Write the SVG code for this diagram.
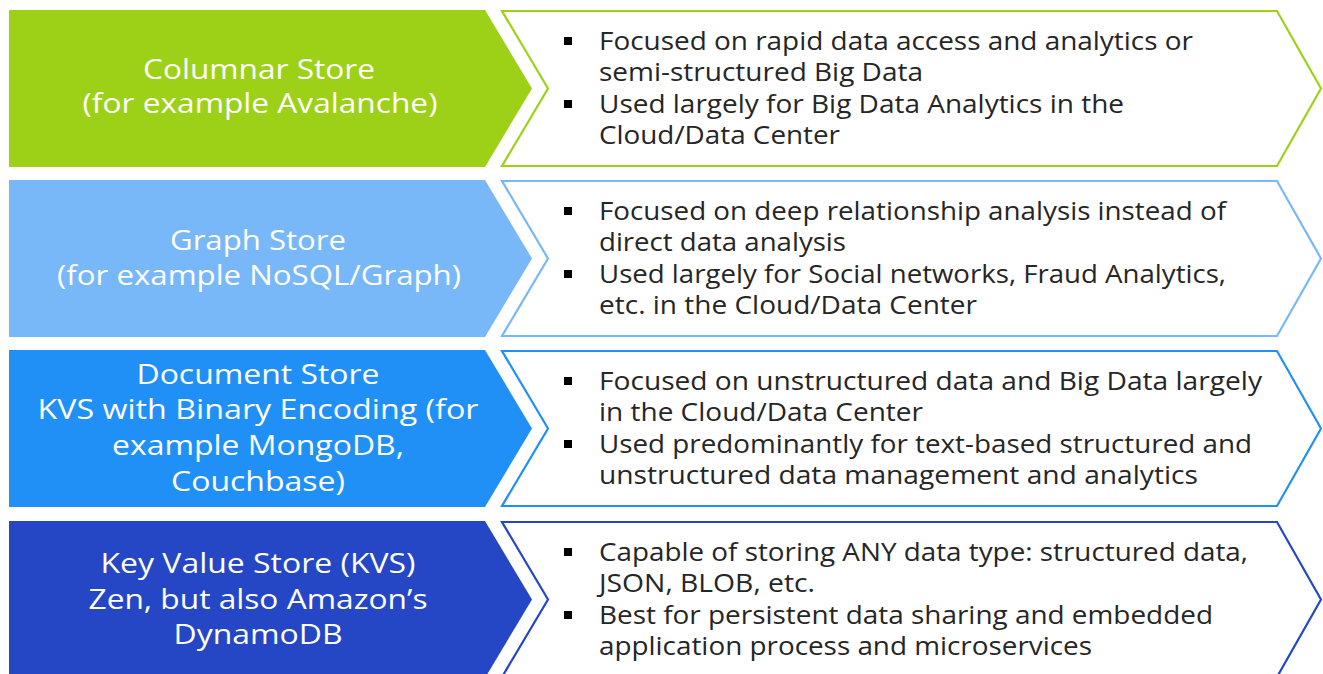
<svg xmlns="http://www.w3.org/2000/svg" width="1323" height="674" viewBox="0 0 1323 674">
<style>
.lt{font-family:"Open Sans","Liberation Sans",sans-serif;font-size:27px;fill:#ffffff;text-anchor:middle}
.rt{font-family:"Open Sans","Liberation Sans",sans-serif;font-size:25px;fill:#262626}
.chev{fill:#ffffff;stroke-width:2.2}
.bul{fill:#000000}
</style>
<defs>
<polygon id="arrowL" points="9,0 485,0 532,78.5 485,157 9,157"/>
<polygon id="chevR" points="502,1 1277,1 1321,78.5 1277,156 502,156 548,78.5"/>
<g id="bullets">
<rect x="564" y="27" width="8" height="8"/>
<rect x="564" y="90" width="8" height="8"/>
</g>
</defs>

<g id="row1" transform="translate(0,10)">
<use href="#arrowL" fill="#9dd117"/>
<use href="#chevR" class="chev" stroke="#9dd117"/>
<use href="#bullets" class="bul"/>
<text class="lt" x="259" y="69" textLength="232" lengthAdjust="spacingAndGlyphs">Columnar Store</text>
<text class="lt" x="260" y="103" textLength="355" lengthAdjust="spacingAndGlyphs">(for example Avalanche)</text>
<text class="rt" x="599" y="40" textLength="594" lengthAdjust="spacingAndGlyphs">Focused on rapid data access and analytics or</text>
<text class="rt" x="599" y="71" textLength="324" lengthAdjust="spacingAndGlyphs">semi-structured Big Data</text>
<text class="rt" x="599" y="103" textLength="525" lengthAdjust="spacingAndGlyphs">Used largely for Big Data Analytics in the</text>
<text class="rt" x="599" y="134" textLength="241" lengthAdjust="spacingAndGlyphs">Cloud/Data Center</text>
</g>

<g id="row2" transform="translate(0,180)">
<use href="#arrowL" fill="#78b8f8"/>
<use href="#chevR" class="chev" stroke="#78b8f8"/>
<use href="#bullets" class="bul"/>
<text class="lt" x="258" y="70" textLength="176" lengthAdjust="spacingAndGlyphs">Graph Store</text>
<text class="lt" x="259" y="105" textLength="404" lengthAdjust="spacingAndGlyphs">(for example NoSQL/Graph)</text>
<text class="rt" x="599" y="40" textLength="627" lengthAdjust="spacingAndGlyphs">Focused on deep relationship analysis instead of</text>
<text class="rt" x="599" y="71" textLength="247" lengthAdjust="spacingAndGlyphs">direct data analysis</text>
<text class="rt" x="599" y="103" textLength="627" lengthAdjust="spacingAndGlyphs">Used largely for Social networks, Fraud Analytics,</text>
<text class="rt" x="599" y="134" textLength="378" lengthAdjust="spacingAndGlyphs">etc. in the Cloud/Data Center</text>
</g>

<g id="row3" transform="translate(0,350)">
<use href="#arrowL" fill="#2190f6"/>
<use href="#chevR" class="chev" stroke="#2190f6"/>
<use href="#bullets" class="bul"/>
<text class="lt" x="258" y="34" textLength="243" lengthAdjust="spacingAndGlyphs">Document Store</text>
<text class="lt" x="258" y="69" textLength="441" lengthAdjust="spacingAndGlyphs">KVS with Binary Encoding (for</text>
<text class="lt" x="258" y="105" textLength="292" lengthAdjust="spacingAndGlyphs">example MongoDB,</text>
<text class="lt" x="258" y="141" textLength="174" lengthAdjust="spacingAndGlyphs">Couchbase)</text>
<text class="rt" x="599" y="40" textLength="663" lengthAdjust="spacingAndGlyphs">Focused on unstructured data and Big Data largely</text>
<text class="rt" x="599" y="71" textLength="324" lengthAdjust="spacingAndGlyphs">in the Cloud/Data Center</text>
<text class="rt" x="599" y="103" textLength="653" lengthAdjust="spacingAndGlyphs">Used predominantly for text-based structured and</text>
<text class="rt" x="599" y="134" textLength="599" lengthAdjust="spacingAndGlyphs">unstructured data management and analytics</text>
</g>

<g id="row4" transform="translate(0,521)">
<use href="#arrowL" fill="#2547c6"/>
<use href="#chevR" class="chev" stroke="#2547c6"/>
<use href="#bullets" class="bul"/>
<text class="lt" x="258" y="52" textLength="315" lengthAdjust="spacingAndGlyphs">Key Value Store (KVS)</text>
<text class="lt" x="258" y="88" textLength="339" lengthAdjust="spacingAndGlyphs">Zen, but also Amazon’s</text>
<text class="lt" x="258" y="123" textLength="169" lengthAdjust="spacingAndGlyphs">DynamoDB</text>
<text class="rt" x="599" y="40" textLength="649" lengthAdjust="spacingAndGlyphs">Capable of storing ANY data type: structured data,</text>
<text class="rt" x="599" y="71" textLength="216" lengthAdjust="spacingAndGlyphs">JSON, BLOB, etc.</text>
<text class="rt" x="599" y="103" textLength="614" lengthAdjust="spacingAndGlyphs">Best for persistent data sharing and embedded</text>
<text class="rt" x="599" y="134" textLength="493" lengthAdjust="spacingAndGlyphs">application process and microservices</text>
</g>
</svg>
